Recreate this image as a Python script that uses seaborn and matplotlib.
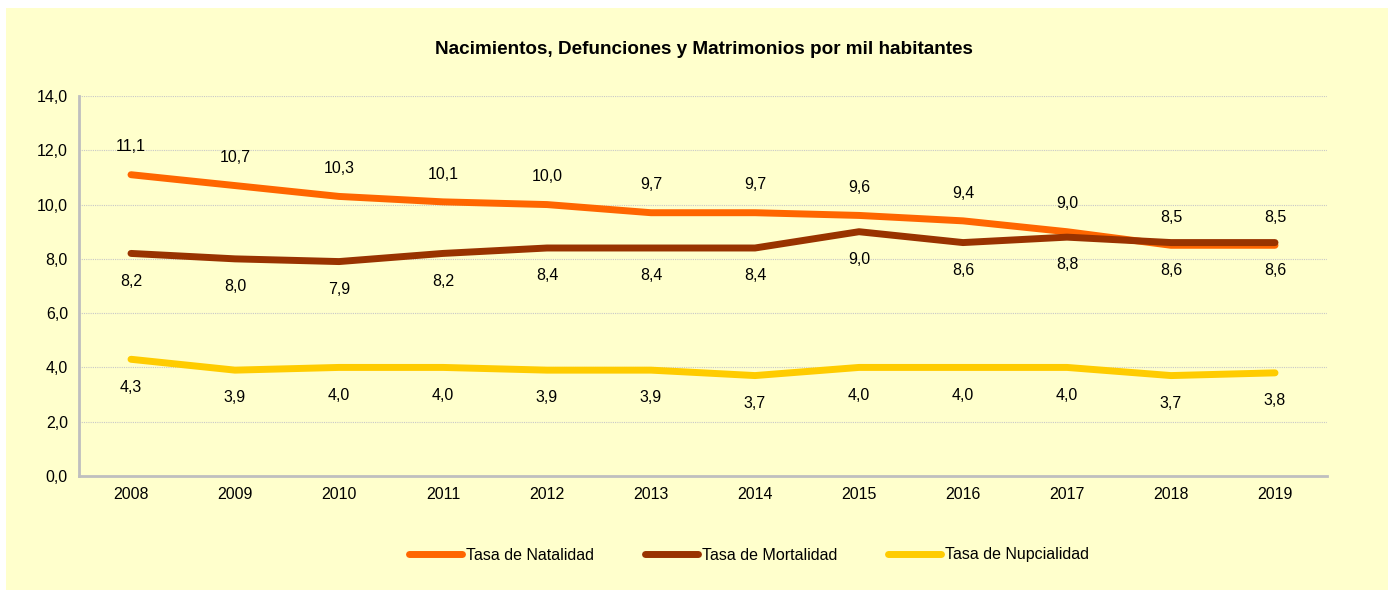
import matplotlib
matplotlib.use("Agg")
import matplotlib.pyplot as plt
import seaborn as sns
import pandas as pd
from matplotlib.patches import Rectangle
from matplotlib.lines import Line2D

years = ["2008", "2009", "2010", "2011", "2012", "2013", "2014", "2015", "2016", "2017", "2018", "2019"]
natalidad = [11.1, 10.7, 10.3, 10.1, 10.0, 9.7, 9.7, 9.6, 9.4, 9.0, 8.5, 8.5]
mortalidad = [8.2, 8.0, 7.9, 8.2, 8.4, 8.4, 8.4, 9.0, 8.6, 8.8, 8.6, 8.6]
nupcialidad = [4.3, 3.9, 4.0, 4.0, 3.9, 3.9, 3.7, 4.0, 4.0, 4.0, 3.7, 3.8]
series_names = ["Tasa de Natalidad", "Tasa de Mortalidad", "Tasa de Nupcialidad"]
colors = ["#FF6600", "#993300", "#FFCC00"]

sns.set_theme(style="white")
plt.rcParams['font.family'] = ['Liberation Sans', 'DejaVu Sans']
plt.rcParams['text.color'] = 'black'
plt.rcParams['xtick.color'] = 'black'
plt.rcParams['ytick.color'] = 'black'

FS = 11.5

rows = []
for name, vals in zip(series_names, [natalidad, mortalidad, nupcialidad]):
    for i, v in enumerate(vals):
        rows.append({"idx": i, "valor": v, "serie": name})
df = pd.DataFrame(rows)

fig = plt.figure(figsize=(13.95, 5.95), dpi=100)
fig.patch.set_facecolor("white")
fig.patches.append(Rectangle((6 / 1395, 1 - 590 / 595), (1388 - 6) / 1395, (590 - 8) / 595,
                             transform=fig.transFigure, facecolor="#FFFFCC", edgecolor="none", zorder=-10))

ax = fig.add_axes([79 / 1395, 1 - 476 / 595, (1327 - 79) / 1395, (476 - 96) / 595])
ax.set_zorder(2)
ax.set_facecolor("none")

sns.lineplot(data=df, x="idx", y="valor", hue="serie", hue_order=series_names,
             palette=colors, linewidth=5, ax=ax, legend=False, sort=False)
for line in ax.lines:
    line.set_solid_capstyle("round")
    line.set_solid_joinstyle("round")
ax.lines[0].set_zorder(3)
ax.lines[1].set_zorder(4)
ax.lines[2].set_zorder(3)

ax.set_xlim(-0.5, 11.5)
ax.set_ylim(0, 14)
yt = [0, 2, 4, 6, 8, 10, 12, 14]
ax.set_yticks(yt)
ax.set_yticklabels([f"{v:.1f}".replace(".", ",") for v in yt], fontsize=FS)
ax.set_xticks(range(12))
ax.set_xticklabels(years, fontsize=FS)
ax.set_xticks([i - 0.5 for i in range(13)], minor=True)
ax.tick_params(axis="x", which="major", length=0, pad=8)
ax.tick_params(axis="x", which="minor", length=5, color="#BFBFBF", width=2, direction="out")
ax.tick_params(axis="y", which="major", length=5, color="#BFBFBF", width=2, direction="out", pad=3)
ax.set_xlabel("")
ax.set_ylabel("")
ax.grid(axis="y", color="#C8C8C8", linestyle=(0, (1, 1)), linewidth=0.8)
ax.set_axisbelow(True)
for s in ["top", "right"]:
    ax.spines[s].set_visible(False)
for s in ["left", "bottom"]:
    ax.spines[s].set_color("#BFBFBF")
    ax.spines[s].set_linewidth(2)

fmt = lambda v: f"{v:.1f}".replace(".", ",")
for i, v in enumerate(natalidad):
    ax.annotate(fmt(v), (i, v), xytext=(0, 20), textcoords="offset points",
                ha="center", va="center", fontsize=FS, color="black")
for i, v in enumerate(mortalidad):
    ax.annotate(fmt(v), (i, v), xytext=(0, -20), textcoords="offset points",
                ha="center", va="center", fontsize=FS, color="black")
for i, v in enumerate(nupcialidad):
    ax.annotate(fmt(v), (i, v), xytext=(0, -20), textcoords="offset points",
                ha="center", va="center", fontsize=FS, color="black")

fig.text(704 / 1395, 1 - 50 / 595, "Nacimientos, Defunciones y Matrimonios por mil habitantes",
         ha="center", va="center", fontsize=13.6, fontweight="bold", color="black")

handles = [Line2D([0], [0], color=c, linewidth=5, solid_capstyle="round") for c in colors]
fig.legend(handles, series_names, loc="center", bbox_to_anchor=(749 / 1395, 1 - 555 / 595),
           ncol=3, frameon=False, fontsize=FS, handlelength=3.3, handletextpad=0.25,
           columnspacing=3.2)

fig.savefig("out.png", dpi=100, facecolor=fig.get_facecolor())
